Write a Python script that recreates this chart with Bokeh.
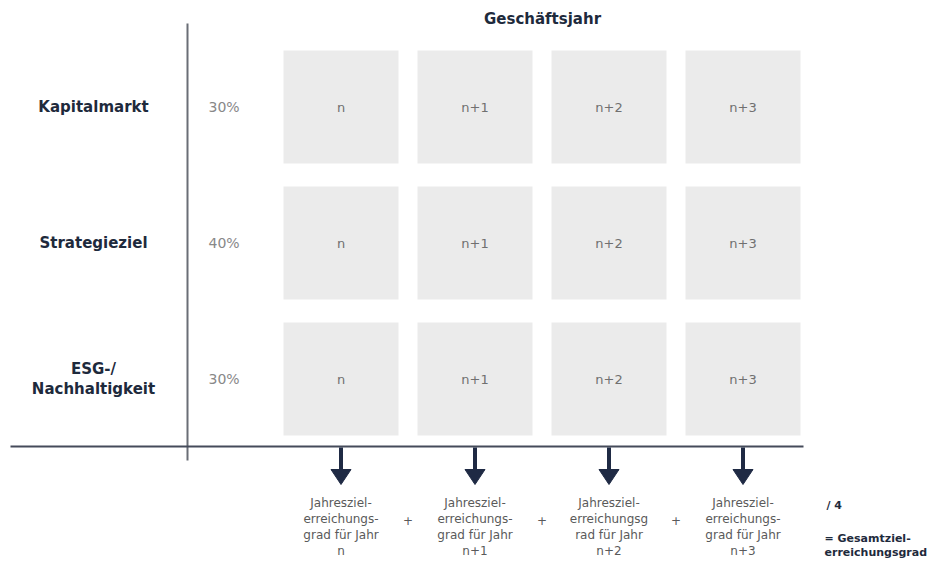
from bokeh.plotting import figure
from bokeh.models import Range1d, ColumnDataSource
from bokeh.core.properties import value
from bokeh.embed import file_html
from bokeh.resources import INLINE

# ---- data ----
row_labels = ["Kapitalmarkt", "Strategieziel", "ESG-/\nNachhaltigkeit"]
weights = ["30%", "40%", "30%"]
years = ["n", "n+1", "n+2", "n+3"]
col_title = "Geschäftsjahr"
result_lines = ["Jahresziel-\nerreichungs-\ngrad für Jahr\nn",
                "Jahresziel-\nerreichungs-\ngrad für Jahr\nn+1",
                "Jahresziel-\nerreichungsg\nrad für Jahr\nn+2",
                "Jahresziel-\nerreichungs-\ngrad für Jahr\nn+3"]
divisor = "/ 4"
total_label = "= Gesamtziel-\nerreichungsgrad"

W, H = 936, 563
p = figure(width=W, height=H, output_backend="svg", toolbar_location=None,
           x_range=Range1d(0, W), y_range=Range1d(H, 0),
           min_border=0, outline_line_color=None)
p.axis.visible = False
p.grid.visible = False
p.background_fill_color = "white"

FONT = value("DejaVu Sans")

# layout
col_x0, col_pitch, box_w = 340.5, 134.0, 115
row_y0, row_pitch, box_h = 106.5, 136.0, 113

xs, ys, labs = [], [], []
for j in range(len(row_labels)):
    for i, yr in enumerate(years):
        xs.append(col_x0 + i * col_pitch)
        ys.append(row_y0 + j * row_pitch)
        labs.append(yr)
src = ColumnDataSource(dict(x=xs, y=ys, t=labs))
p.rect("x", "y", width=box_w, height=box_h, source=src,
       fill_color="#ebebeb", line_color=None)
p.text("x", "y", text="t", source=src, text_align="center", text_baseline="middle",
       text_font=FONT, text_font_size="13px", text_color="#707070")

# row labels & weights
ry = [row_y0 + j * row_pitch for j in range(len(row_labels))]
p.text(x=[93] * 3, y=ry, text=row_labels, text_align="center", text_baseline="middle",
       text_font=FONT, text_font_style="bold", text_font_size="15px",
       text_color="#1e2a3c", text_line_height=1.1)
p.text(x=[208] * 3, y=ry, text=weights, text_align="left", text_baseline="middle",
       text_font=FONT, text_font_size="14px", text_color="#888888")

# title
p.text(x=[542], y=[18], text=[col_title], text_align="center", text_baseline="middle",
       text_font=FONT, text_font_style="bold", text_font_size="15px",
       text_color="#1e2a3c")

# axes lines
p.segment(x0=[187], y0=[23], x1=[187], y1=[460], line_color="#6a6e76", line_width=2)
p.segment(x0=[10], y0=[446], x1=[803], y1=[446], line_color="#454b5a", line_width=2)

# arrows
ax = [col_x0 + i * col_pitch for i in range(len(years))]
p.segment(x0=ax, y0=[447] * 4, x1=ax, y1=[472] * 4, line_color="#1f2a44", line_width=4)
p.patches(xs=[[x - 10, x + 10, x] for x in ax], ys=[[469, 469, 484]] * 4,
          fill_color="#1f2a44", line_color="#1f2a44")

# result texts
p.text(x=ax, y=[495] * 4, text=result_lines, text_align="center", text_baseline="top",
       text_font=FONT, text_font_size="12px", text_color="#5a5a5a",
       text_line_height=1.15)
px = [col_x0 + (i + 0.5) * col_pitch for i in range(len(years) - 1)]
p.text(x=px, y=[520] * 3, text=["+"] * 3, text_align="center", text_baseline="middle",
       text_font=FONT, text_font_size="12px", text_color="#5a5a5a")

p.text(x=[826], y=[505], text=[divisor], text_align="left", text_baseline="middle",
       text_font=FONT, text_font_style="bold", text_font_size="11px",
       text_color="#1e2a3c")
p.text(x=[824], y=[531], text=[total_label], text_align="left", text_baseline="top",
       text_font=FONT, text_font_style="bold", text_font_size="11px",
       text_color="#1e2a3c", text_line_height=1.15)

open("out.html", "w").write(file_html(p, INLINE))
